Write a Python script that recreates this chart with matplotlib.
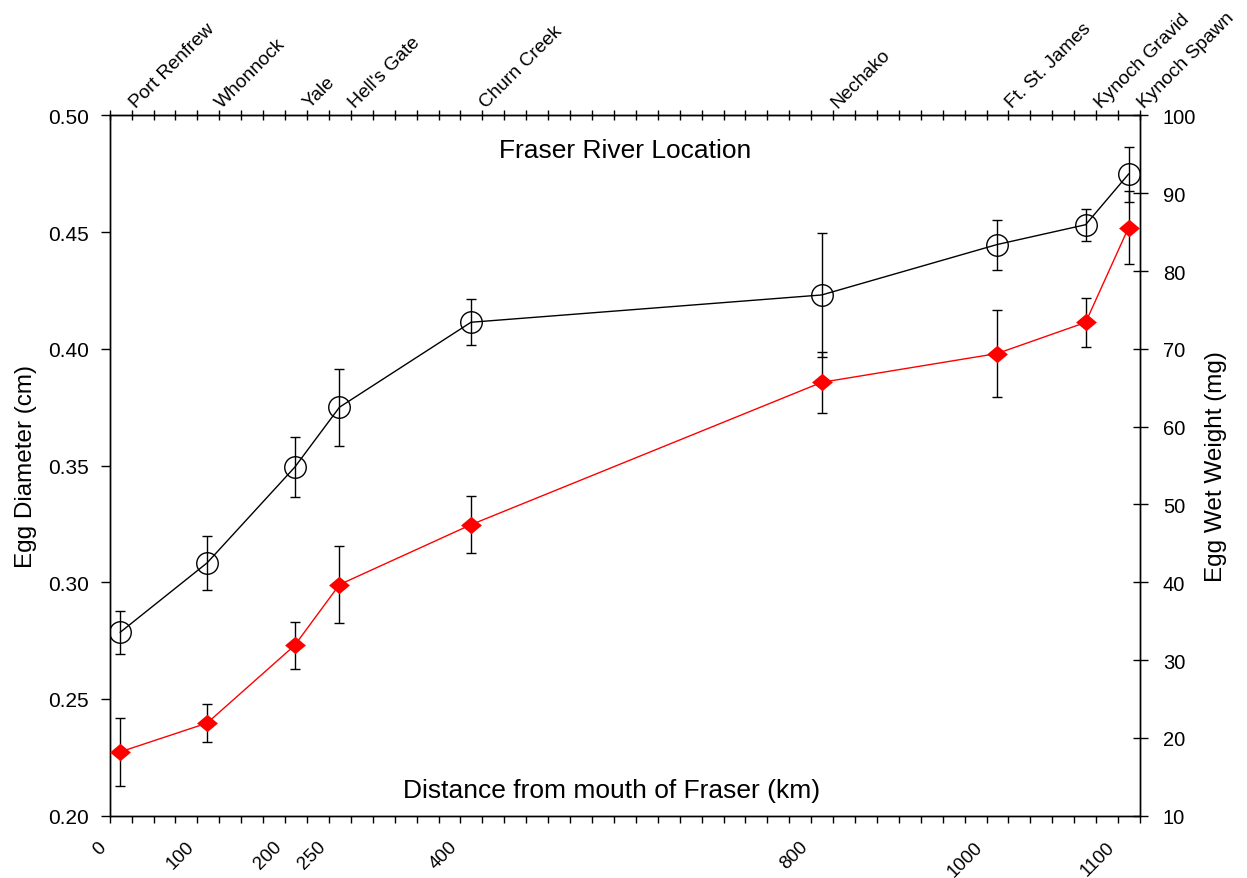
import numpy as np
import matplotlib
matplotlib.use("Agg")
import matplotlib.pyplot as plt
from matplotlib.path import Path

plt.rcParams["font.family"] = ["Liberation Sans", "DejaVu Sans"]

# Sites along the Fraser, distance from mouth (km)
locations = ["Port Renfrew", "Whonnock", "Yale", "Hell's Gate", "Churn Creek",
             "Nechako", "Ft. St. James", "Kynoch Gravid", "Kynoch Spawn"]
distance_km = [12, 111, 211, 262, 412, 812, 1012, 1113, 1162]

# Egg diameter (cm), left axis
diameter = [0.2786, 0.3083, 0.3493, 0.3750, 0.4114, 0.4231, 0.4447, 0.4532, 0.4749]
diameter_err = [0.0092, 0.0115, 0.0128, 0.0165, 0.0099, 0.0265, 0.0107, 0.0068, 0.0118]

# Egg wet weight (mg), right axis
wet_weight = [18.2, 21.9, 31.9, 39.7, 47.4, 65.7, 69.4, 73.4, 85.6]
wet_weight_err = [4.4, 2.4, 3.0, 4.9, 3.65, 3.9, 5.55, 3.1, 4.65]

# bottom axis labels (the "1100" label sits at the 1150 km tick in the original)
xtick_pos = [0, 100, 200, 250, 400, 800, 1000, 1150]
xtick_labels = ["0", "100", "200", "250", "400", "800", "1000", "1100"]

fig = plt.figure(figsize=(12.47, 8.79), dpi=100)
ax = fig.add_axes([0.088, 0.0709, 0.8262, 0.7966])
ax2 = ax.twinx()

# wide diamond marker
wide_diamond = Path([(-1, 0), (0, 0.84), (1, 0), (0, -0.84), (-1, 0)],
                    [Path.MOVETO, Path.LINETO, Path.LINETO, Path.LINETO, Path.CLOSEPOLY])

# Diameter series
ax.errorbar(distance_km, diameter, yerr=diameter_err, fmt="none",
            ecolor="black", elinewidth=1.0, capsize=3.4, capthick=1.0, zorder=2)
ax.plot(distance_km, diameter, color="black", lw=1.0, marker="o", ms=15.5,
        mfc="none", mec="black", mew=1.0, zorder=3)

# Wet weight series
ax2.errorbar(distance_km, wet_weight, yerr=wet_weight_err, fmt="none",
             ecolor="black", elinewidth=1.0, capsize=3.4, capthick=1.0, zorder=2)
ax2.plot(distance_km, wet_weight, color="red", lw=1.0, marker=wide_diamond, ms=15,
         mfc="red", mec="red", mew=0, zorder=3)

ax.set_xlim(0, 1175)
ax.set_ylim(0.20, 0.50)
ax2.set_ylim(10, 100)

ax.set_yticks(np.arange(0.20, 0.501, 0.05))
ax.set_yticklabels([f"{v:.2f}" for v in np.arange(0.20, 0.501, 0.05)])
ax2.set_yticks(np.arange(10, 101, 10))

ax.set_xticks(xtick_pos)
ax.set_xticklabels(xtick_labels, rotation=45, ha="right")
ax.set_xticks(np.arange(0, 1176, 25), minor=True)

ax.tick_params(axis="x", which="both", direction="out", length=5, width=1.0,
               labelsize=13.5, pad=11)
ax.tick_params(axis="y", direction="out", length=6.7, width=1.0, labelsize=15, pad=8.5)
ax2.tick_params(axis="y", direction="inout", length=10.8, width=1.0, labelsize=14.5, pad=11)

# top ticks every 25 km, crossing the spine
top = ax.secondary_xaxis("top")
top.set_xticks(np.arange(0, 1176, 25))
top.tick_params(axis="x", direction="inout", length=7.2, width=1.0, labeltop=False)

for spine in list(ax.spines.values()) + list(ax2.spines.values()):
    spine.set_linewidth(1.0)

# site names along the top
for name, d in zip(locations, distance_km):
    ax.annotate(name, xy=(d, 1), xycoords=("data", "axes fraction"),
                xytext=(11, 5.5), textcoords="offset points",
                rotation=45, rotation_mode="anchor", ha="left", va="baseline",
                fontsize=13.8, annotation_clip=False)

ax.set_ylabel("Egg Diameter (cm)", fontsize=17.5)
ax.yaxis.set_label_coords(-0.071, 0.5)
ax2.set_ylabel("Egg Wet Weight (mg)", fontsize=17.5)
ax2.yaxis.set_label_coords(1.063, 0.5)

ax.text(0.5, 0.950, "Fraser River Location", transform=ax.transAxes,
        ha="center", va="center", fontsize=19)
ax.text(0.4866, 0.036, "Distance from mouth of Fraser (km)", transform=ax.transAxes,
        ha="center", va="center", fontsize=19)

fig.savefig("out.png", dpi=100)
